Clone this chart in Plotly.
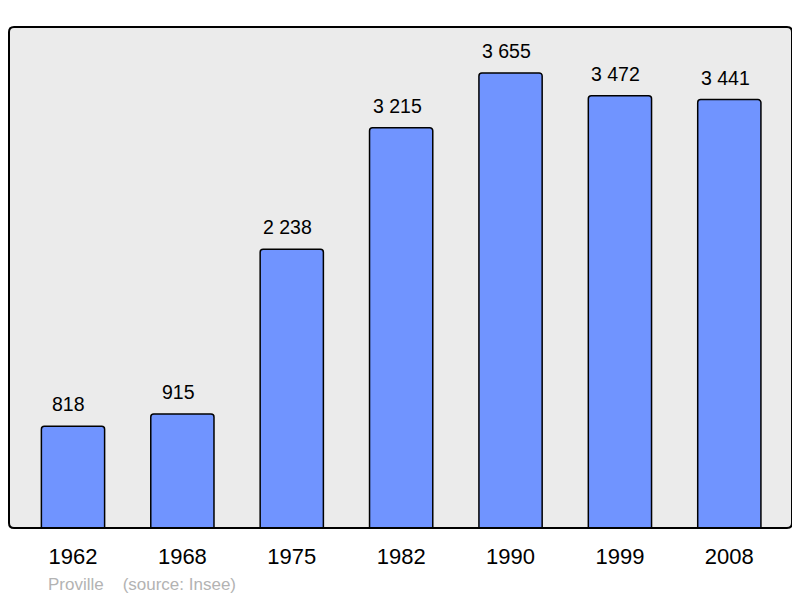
import plotly.graph_objects as go

years = ["1962", "1968", "1975", "1982", "1990", "1999", "2008"]
population = [818, 915, 2238, 3215, 3655, 3472, 3441]
labels = ["818", "915", "2 238", "3 215", "3 655", "3 472", "3 441"]
source_text = "Proville    (source: Insee)"

# page body has an 8px margin; figure sized to fit the window
W, H = 792, 590
ml, mr, mt, mb = 1, 8, 19, 70
pw, ph = W - ml - mr, H - mt - mb

fig = go.Figure()
fig.add_trace(go.Bar(
    x=years, y=population,
    width=0.578,
    marker=dict(color="#7094ff", line=dict(color="#000000", width=1.5), cornerradius=3),
    hoverinfo="skip",
))

for i, (v, lab) in enumerate(zip(population, labels)):
    fig.add_annotation(x=i, y=v, text=lab, showarrow=False, yanchor="bottom",
                       yshift=9, xshift=-4,
                       font=dict(family="Liberation Sans, Arial", size=19.5, color="#000000"))

fig.add_annotation(xref="paper", yref="paper", x=37 / pw, y=0, xanchor="left", yanchor="middle",
                   yshift=-56, text=source_text, showarrow=False,
                   font=dict(family="Liberation Sans, Arial", size=17, color="#b3b3b3"))

# rounded plot frame
r = 5
rx, ry = r / pw, r / ph
path = (f"M {rx},0 L {1-rx},0 Q 1,0 1,{ry} L 1,{1-ry} Q 1,1 {1-rx},1 "
        f"L {rx},1 Q 0,1 0,{1-ry} L 0,{ry} Q 0,0 {rx},0 Z")
fig.add_shape(type="path", xref="paper", yref="paper", path=path,
              line=dict(color="#000000", width=2), layer="above")

fig.update_layout(
    width=W, height=H,
    margin=dict(l=ml, r=mr, t=mt, b=mb),
    paper_bgcolor="#ffffff",
    plot_bgcolor="#ebebeb",
    showlegend=False,
    xaxis=dict(type="category", range=[-0.585, 6.573], showgrid=False, zeroline=False, showline=False,
               ticks="", ticklabelstandoff=13,
               tickfont=dict(family="Liberation Sans, Arial", size=22, color="#000000")),
    yaxis=dict(range=[0, 4024], showgrid=False, zeroline=False, showline=False,
               showticklabels=False, ticks=""),
)

fig.write_html("out.html")
